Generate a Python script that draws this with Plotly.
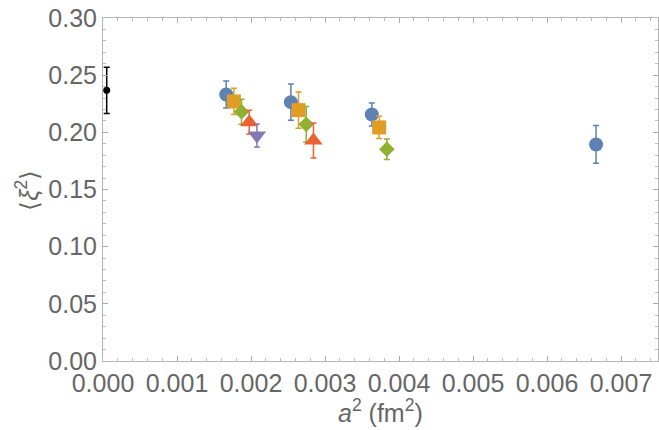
import plotly.graph_objects as go

# Data
blue_x = [0.001665, 0.002539, 0.003633, 0.006663]
blue_y = [0.2331, 0.2264, 0.2156, 0.1894]
blue_err = [0.0118, 0.0159, 0.0101, 0.0165]

orange_x = [0.001769, 0.002642, 0.003732]
orange_y = [0.2270, 0.2194, 0.2043]
orange_err = [0.0115, 0.0159, 0.0098]

green_x = [0.001872, 0.002746, 0.003836]
green_y = [0.2180, 0.2070, 0.1852]
green_err = [0.0110, 0.0157, 0.0090]

red_x = [0.001976, 0.002844]
red_y = [0.2088, 0.1929]
red_err = [0.0105, 0.0153]

purple_x = [0.00208]
purple_y = [0.1972]
purple_err = [0.0100]

black_x = [0.00005]
black_y = [0.2367]
black_err = [0.0203]

x_ticks = [0, 0.001, 0.002, 0.003, 0.004, 0.005, 0.006, 0.007]
y_ticks = [0.0, 0.05, 0.10, 0.15, 0.20, 0.25, 0.30]

series = [
    (blue_x, blue_y, blue_err, "#5E81B5", "circle", 14),
    (orange_x, orange_y, orange_err, "#E19C24", "square", 14),
    (green_x, green_y, green_err, "#8FB032", "diamond", 12),
    (red_x, red_y, red_err, "#EB6235", "triangle-up", 16),
    (purple_x, purple_y, purple_err, "#8778B3", "triangle-down", 16),
    (black_x, black_y, black_err, "#000000", "circle", 7),
]

fig = go.Figure()
for xs, ys, es, col, sym, sz in series:
    fig.add_trace(go.Scatter(
        x=xs, y=ys, mode="markers",
        marker=dict(color=col, symbol=sym, size=sz, line=dict(width=0)),
        error_y=dict(type="data", array=es, visible=True, color=col,
                     thickness=1.5, width=3),
        cliponaxis=False, showlegend=False,
    ))

axis_font = dict(family="Liberation Sans, Arial, sans-serif", size=25, color="#666666")

fig.update_xaxes(
    range=[0, 0.0075], tickvals=x_ticks, tickformat=".3f",
    showgrid=False, zeroline=False,
    showline=True, linecolor="#b5b5b5", linewidth=1, mirror="ticks",
    ticks="inside", ticklen=5, tickcolor="#aaaaaa", tickwidth=1,
    minor=dict(dtick=0.0002, ticks="inside", ticklen=3, tickcolor="#bbbbbb", showgrid=False),
    tickfont=axis_font,
)
fig.update_yaxes(
    range=[0, 0.30], tickvals=y_ticks, tickformat=".2f",
    showgrid=False, zeroline=False,
    showline=True, linecolor="#b5b5b5", linewidth=1, mirror="ticks",
    ticks="inside", ticklen=5, tickcolor="#aaaaaa", tickwidth=1,
    minor=dict(dtick=0.01, ticks="inside", ticklen=3, tickcolor="#bbbbbb", showgrid=False),
    tickfont=axis_font,
)

fig.update_layout(
    width=659, height=430,
    margin=dict(l=103, r=1, t=18, b=69),
    paper_bgcolor="white", plot_bgcolor="white",
    annotations=[
        dict(text="<i>a</i><sup>2</sup> (fm<sup>2</sup>)", xref="paper", yref="paper",
             x=0.5, y=-0.145, xanchor="center", yanchor="middle", showarrow=False,
             font=dict(family="Liberation Sans, Arial, sans-serif", size=25, color="#666666")),
        dict(text="⟨<i>ξ</i><sup>2</sup>⟩", xref="paper", yref="paper",
             x=-0.136, y=0.498, xanchor="center", yanchor="middle", showarrow=False,
             textangle=-90,
             font=dict(family="Liberation Sans, Arial, sans-serif", size=25, color="#666666")),
    ],
)

fig.write_html("out.html")
